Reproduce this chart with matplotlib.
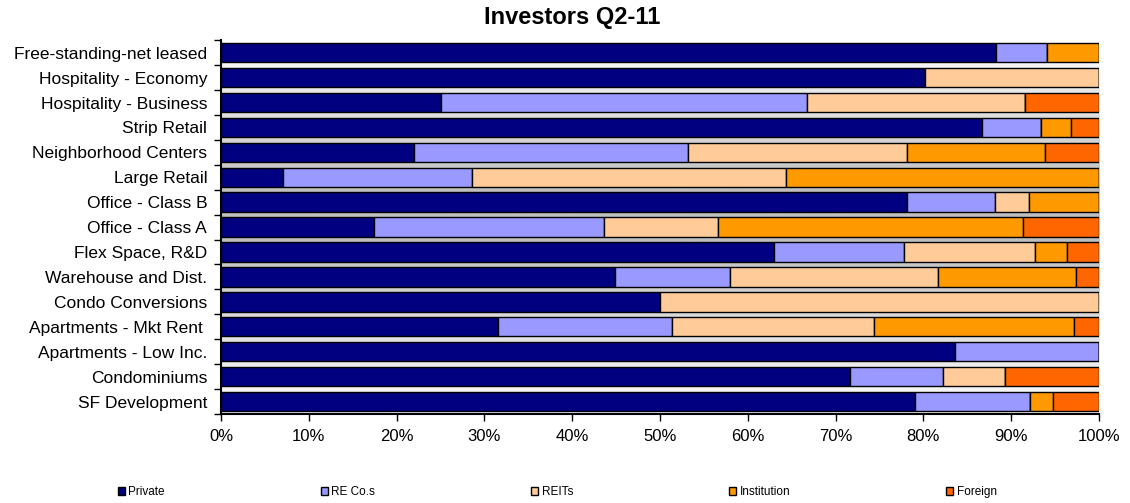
import numpy as np
import matplotlib
matplotlib.use("Agg")
import matplotlib.pyplot as plt
from matplotlib.colors import LinearSegmentedColormap

plt.rcParams['font.family'] = ['Liberation Sans', 'DejaVu Sans']

categories = [
    "Free-standing-net leased", "Hospitality - Economy", "Hospitality - Business",
    "Strip Retail", "Neighborhood Centers", "Large Retail", "Office - Class B",
    "Office - Class A", "Flex Space, R&D", "Warehouse and Dist.", "Condo Conversions",
    "Apartments - Mkt Rent ", "Apartments - Low Inc.", "Condominiums", "SF Development",
]
series_names = ["Private", "RE Co.s", "REITs", "Institution", "Foreign"]

private     = [88.3, 80.2, 25.1, 86.7, 22.0,  7.1, 78.1, 17.4, 63.0, 44.9, 50.0, 31.6, 83.6, 71.6, 79.0]
re_cos      = [ 5.8,  0.0, 41.6,  6.7, 31.2, 21.5, 10.0, 26.2, 14.8, 13.1,  0.0, 19.8, 16.4, 10.6, 13.1]
reits       = [ 0.0, 19.8, 24.9,  0.0, 24.9, 35.8,  3.9, 13.0, 14.9, 23.7, 50.0, 23.0,  0.0,  7.1,  0.0]
institution = [ 5.9,  0.0,  0.0,  3.4, 15.7, 35.6,  8.0, 34.7,  3.6, 15.7,  0.0, 22.8,  0.0,  0.0,  2.7]
foreign     = [ 0.0,  0.0,  8.4,  3.2,  6.2,  0.0,  0.0,  8.7,  3.7,  2.6,  0.0,  2.8,  0.0, 10.7,  5.2]

colors = ["#000080", "#9999FF", "#FFCC99", "#FF9900", "#FF6600"]
x_ticks = [0, 10, 20, 30, 40, 50, 60, 70, 80, 90, 100]

fig = plt.figure(figsize=(11.3, 5.03), dpi=100)
ax = fig.add_axes([0.1956, 0.177, 0.7770, 0.743])

n = len(categories)
ypos = np.arange(n)[::-1]  # first category on top

# vertical gradient plot-area fill (white -> grey -> white)
grad_cmap = LinearSegmentedColormap.from_list(
    "fill", [(0.0, "#ffffff"), (0.45, "#c0c0c0"), (0.6, "#c0c0c0"), (1.0, "#ffffff")])
grad = np.linspace(0, 1, 256).reshape(-1, 1)
ax.imshow(grad, cmap=grad_cmap, aspect='auto', extent=[0, 100, n - 0.5, -0.5],
          origin='upper', zorder=0)

data = [private, re_cos, reits, institution, foreign]
left = np.zeros(n)
handles = []
for name, vals, col in zip(series_names, data, colors):
    vals = np.array(vals, dtype=float)
    h = ax.barh(ypos, vals, left=left, height=0.78, color=col,
                edgecolor="black", linewidth=1.0, label=name, zorder=2)
    handles.append(h)
    left += vals

ax.set_xlim(0, 100)
ax.set_ylim(-0.5, n - 0.5)
ax.set_xticks(x_ticks)
ax.set_xticklabels([f"{t}%" for t in x_ticks], fontsize=12)

# category boundaries carry the tick marks, labels sit at bar centres
ax.set_yticks(np.arange(-0.5, n, 1.0))
ax.set_yticklabels([])
ax.set_yticks(ypos, minor=True)
ax.set_yticklabels(categories, minor=True, fontsize=12.5)
ax.tick_params(axis='y', which='minor', length=0, pad=10)
ax.tick_params(axis='y', which='major', length=5, width=1, direction='out')
ax.tick_params(axis='x', length=5, width=1, direction='out', pad=6)

for s in ["top", "right"]:
    ax.spines[s].set_visible(False)
for s in ["left", "bottom"]:
    ax.spines[s].set_linewidth(1.5)
    ax.spines[s].set_zorder(3)

fig.text(0.506, 0.965, "Investors Q2-11", fontsize=17, fontweight="bold",
         ha="center", va="center")

fig.legend(handles=handles, labels=series_names, loc="center",
           bbox_to_anchor=(0.493, 0.022), ncol=5, frameon=False,
           fontsize=8.5, handlelength=0.6, handleheight=0.6, handletextpad=0.3,
           columnspacing=13.2)

fig.savefig("out.png", dpi=100)
